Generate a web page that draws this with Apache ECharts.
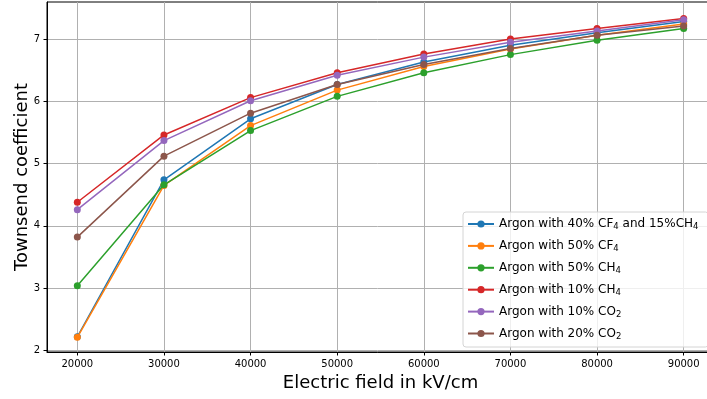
<!DOCTYPE html>
<html>
<head>
<meta charset="utf-8">
<script src="https://cdn.jsdelivr.net/npm/echarts@6/dist/echarts.min.js"></script>
<style>
  html, body { margin: 0; padding: 0; background: #fff; }
  #chart { width: 707px; height: 399px; }
</style>
</head>
<body>
<div id="chart"></div>
<script>
// Electric field values (kV/cm)
const fields = [20000, 30000, 40000, 50000, 60000, 70000, 80000, 90000];

// Townsend coefficient per gas mixture
const ar40cf4_15ch4 = [2.22, 4.74, 5.72, 6.27, 6.63, 6.90, 7.10, 7.28];
const ar50cf4       = [2.21, 4.65, 5.61, 6.18, 6.56, 6.84, 7.06, 7.24];
const ar50ch4       = [3.04, 4.66, 5.53, 6.08, 6.46, 6.75, 6.98, 7.17];
const ar10ch4       = [4.38, 5.46, 6.06, 6.46, 6.76, 7.00, 7.17, 7.33];
const ar10co2       = [4.26, 5.37, 6.01, 6.42, 6.71, 6.95, 7.13, 7.31];
const ar20co2       = [3.82, 5.12, 5.81, 6.27, 6.59, 6.85, 7.06, 7.21];

// Tick labels
const xTicks = [20000, 30000, 40000, 50000, 60000, 70000, 80000, 90000];
const yTicks = [2, 3, 4, 5, 6, 7];

// Legend names (rich-text markup gives subscripts)
const names = [
  'Argon with 40% CF4 and 15%CH4',
  'Argon with 50% CF4',
  'Argon with 50% CH4',
  'Argon with 10% CH4',
  'Argon with 10% CO2',
  'Argon with 20% CO2'
];
const legendRich = {
  'Argon with 40% CF4 and 15%CH4': '{n|Argon with 40% CF}{s|4}{n| and 15%CH}{s|4}',
  'Argon with 50% CF4': '{n|Argon with 50% CF}{s|4}',
  'Argon with 50% CH4': '{n|Argon with 50% CH}{s|4}',
  'Argon with 10% CH4': '{n|Argon with 10% CH}{s|4}',
  'Argon with 10% CO2': '{n|Argon with 10% CO}{s|2}',
  'Argon with 20% CO2': '{n|Argon with 20% CO}{s|2}'
};

const seriesValues = [ar40cf4_15ch4, ar50cf4, ar50ch4, ar10ch4, ar10co2, ar20co2];
const colors = ['#1f77b4', '#ff7f0e', '#2ca02c', '#d62728', '#9467bd', '#8c564b'];

const FONT = 'DejaVu Sans';

const chart = echarts.init(document.getElementById('chart'), null, { renderer: 'canvas' });

chart.setOption({
  animation: false,
  backgroundColor: '#ffffff',
  color: colors,
  textStyle: { fontFamily: FONT },
  grid: {
    left: 47, top: 2, right: -7, bottom: 47,
    containLabel: false,
    outerBoundsMode: 'none',
    show: true, borderColor: '#000', borderWidth: 1, backgroundColor: 'transparent'
  },
  legend: {
    orient: 'vertical',
    left: 463, top: 212,
    padding: [6, 10, 6, 4],
    itemWidth: 26, itemHeight: 9, itemGap: 8.4,
    backgroundColor: 'rgba(255,255,255,0.8)',
    borderColor: '#d4d4d4', borderWidth: 1, borderRadius: 3,
    data: names,
    formatter: name => legendRich[name],
    textStyle: {
      fontFamily: FONT, color: '#000',
      rich: {
        n: { fontFamily: FONT, fontSize: 12, color: '#000' },
        s: { fontFamily: FONT, fontSize: 8.5, color: '#000', padding: [6, 0, 0, 0] }
      }
    }
  },
  xAxis: {
    type: 'value',
    min: 16500, max: 93500,
    name: 'Electric field in kV/cm',
    nameLocation: 'middle', nameGap: 22,
    nameMoveOverlap: false,
    nameTextStyle: { fontFamily: FONT, fontSize: 18, color: '#000' },
    axisLine: { show: true, onZero: false, lineStyle: { color: '#000', width: 1 } },
    axisTick: { show: true, inside: false, length: 3.5, customValues: xTicks, lineStyle: { color: '#000', width: 1 } },
    axisLabel: { customValues: xTicks, margin: 7, fontFamily: FONT, fontSize: 10, color: '#000', formatter: v => String(v) },
    splitLine: { show: true, lineStyle: { color: '#b0b0b0', width: 1 } }
  },
  yAxis: {
    type: 'value',
    min: 1.975, max: 7.595,
    name: 'Townsend coefficient',
    nameLocation: 'middle', nameGap: 16,
    nameMoveOverlap: false,
    nameTextStyle: { fontFamily: FONT, fontSize: 18, color: '#000' },
    axisLine: { show: true, onZero: false, lineStyle: { color: '#000', width: 1 } },
    axisTick: { show: true, inside: false, length: 3.5, customValues: yTicks, lineStyle: { color: '#000', width: 1 } },
    axisLabel: { customValues: yTicks, margin: 7, fontFamily: FONT, fontSize: 10, color: '#000', formatter: v => String(v) },
    splitLine: { show: true, lineStyle: { color: '#b0b0b0', width: 1 } }
  },
  series: names.map((nm, i) => ({
    name: nm,
    type: 'line',
    data: fields.map((f, j) => [f, seriesValues[i][j]]),
    symbol: 'circle',
    symbolSize: 7,
    showSymbol: true,
    lineStyle: { width: 1.5, color: colors[i] },
    itemStyle: { color: colors[i] },
    emphasis: { disabled: true },
    z: 2 + i
  }))
});
</script>
</body>
</html>
